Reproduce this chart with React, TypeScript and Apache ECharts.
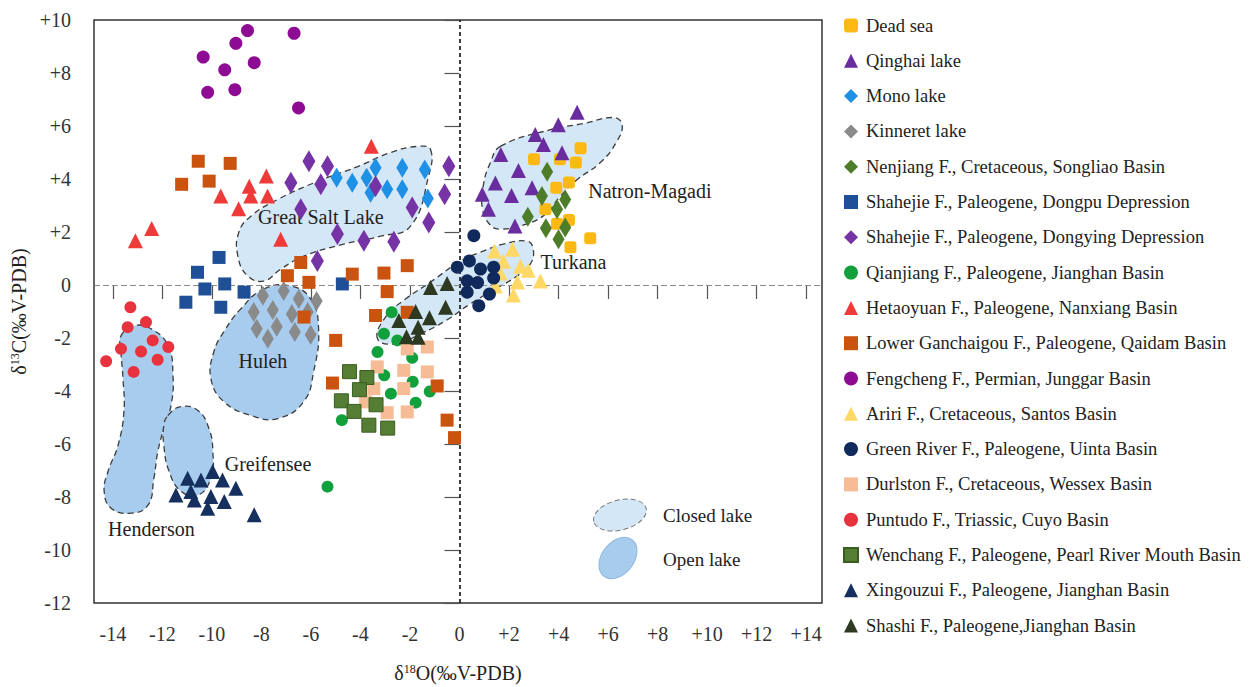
import React, { useEffect, useRef } from "react";
import * as echarts from "echarts";

const FONT = '"Liberation Serif", "Times New Roman", Times, serif';

// ---- axes ----
const xTickValues = [-14, -12, -10, -8, -6, -4, -2, 0, 2, 4, 6, 8, 10, 12, 14];
const xMin = -14.76;
const xMax = 14.64;
const yMin = -12;
const yMax = 10;
const yStep = 2;

// ---- series values [δ18O, δ13C] ----
const deadSea = [[4.89, 5.16], [3.01, 4.75], [4.06, 4.75], [4.7, 4.62], [4.42, 3.87], [3.91, 3.67], [3.47, 2.86], [4.42, 2.45], [3.94, 2.31], [5.28, 1.76], [4.48, 1.42]];
const qinghaiLake = [[4.75, 6.52], [3.99, 6.05], [3.06, 5.68], [3.39, 5.3], [4.14, 4.99], [1.67, 4.92], [2.38, 4.32], [1.45, 3.85], [2.93, 3.67], [0.92, 3.42], [2.1, 3.38], [1.17, 2.86], [2.24, 2.23]];
const monoLake = [[-4.96, 4.05], [-4.33, 3.86], [-3.75, 4.05], [-3.39, 4.42], [-3.59, 3.48], [-2.92, 3.61], [-2.31, 4.42], [-2.31, 3.61], [-1.4, 4.36], [-1.28, 3.26]];
const kinneretLake = [[-7.94, -0.41], [-7.1, -0.23], [-6.49, -0.53], [-5.77, -0.6], [-8.31, -1.02], [-7.54, -0.94], [-6.77, -1.09], [-6.13, -1.02], [-8.19, -1.65], [-7.38, -1.58], [-6.65, -1.77], [-6.01, -1.88], [-7.74, -2.03]];
const nenjiang = [[3.54, 4.27], [3.33, 3.36], [4.27, 3.23], [2.76, 2.58], [3.94, 2.86], [3.49, 2.14], [4.27, 2.17], [4.0, 1.73]];
const shahejieDongpu = [[-9.71, 1.04], [-10.58, 0.48], [-11.05, -0.65], [-10.28, -0.15], [-9.48, 0.04], [-8.7, -0.27], [-9.64, -0.84], [-4.73, 0.04]];
const shahejieDongying = [[-6.08, 4.67], [-5.33, 4.48], [-6.81, 3.86], [-5.6, 3.8], [-6.41, 2.86], [-3.39, 3.73], [-1.91, 2.92], [-1.24, 2.36], [-4.93, 1.92], [-3.86, 1.67], [-2.65, 1.63], [-5.74, 0.91], [-0.43, 4.48], [-0.6, 3.42]];
const qianjiang = [[-2.74, -1.03], [-3.05, -1.84], [-2.51, -2.09], [-3.31, -2.53], [-1.91, -2.75], [-3.04, -3.41], [-1.89, -3.65], [-2.77, -4.1], [-1.77, -4.44], [-1.2, -4.02], [-4.75, -5.1], [-5.33, -7.61]];
const hetaoyuan = [[-3.56, 5.24], [-7.8, 4.11], [-8.49, 3.73], [-9.64, 3.36], [-8.43, 3.36], [-7.75, 3.36], [-8.92, 2.88], [-12.43, 2.13], [-13.09, 1.67], [-7.22, 1.73]];
const lowerGanchaigou = [[-10.55, 4.67], [-9.26, 4.59], [-11.22, 3.8], [-10.11, 3.92], [-6.41, 0.85], [-6.95, 0.35], [-6.08, 0.1], [-4.33, 0.41], [-3.05, 0.45], [-2.11, 0.73], [-2.92, -0.25], [-6.28, -1.21], [-3.39, -1.15], [-2.11, -1.03], [-5.0, -2.09], [-5.13, -3.7], [-0.9, -3.81], [-0.5, -5.1], [-0.2, -5.76]];
const fengcheng = [[-8.56, 9.6], [-6.68, 9.5], [-9.03, 9.12], [-10.35, 8.6], [-8.29, 8.39], [-9.48, 8.12], [-10.17, 7.27], [-9.07, 7.37], [-6.5, 6.68]];
const ariri = [[1.41, 1.28], [2.14, 1.35], [1.77, 0.9], [2.46, 0.71], [1.65, 0.45], [2.78, 0.56], [2.34, 0.11], [3.27, 0.15], [2.18, -0.38], [1.45, -0.04]];
const greenRiver = [[0.58, 1.86], [-0.09, 0.67], [0.4, 0.91], [0.85, 0.6], [1.38, 0.67], [0.31, 0.16], [0.73, 0.09], [1.38, 0.26], [0.31, -0.27], [1.21, -0.34], [0.78, -0.78]];
const durlston = [[-2.11, -2.41], [-1.3, -2.34], [-3.32, -3.09], [-2.25, -3.22], [-1.3, -3.28], [-3.46, -3.91], [-2.25, -3.91], [-3.79, -4.41], [-2.92, -4.82], [-2.11, -4.79]];
const puntudo = [[-13.29, -0.84], [-13.4, -1.59], [-12.66, -1.4], [-13.67, -2.41], [-12.86, -2.51], [-12.39, -2.09], [-11.76, -2.34], [-12.19, -2.82], [-13.16, -3.28], [-14.27, -2.88]];
const wenchang = [[-4.44, -3.27], [-3.74, -3.49], [-4.04, -3.95], [-4.77, -4.37], [-3.37, -4.52], [-4.26, -4.77], [-3.66, -5.29], [-2.9, -5.4]];
const xingouzui = [[-10.98, -7.29], [-10.44, -7.36], [-9.97, -7.04], [-9.57, -7.36], [-9.03, -7.67], [-11.45, -7.92], [-10.85, -7.79], [-10.71, -8.11], [-10.04, -7.98], [-9.5, -8.17], [-10.17, -8.42], [-8.29, -8.67]];
const shashi = [[-1.17, -0.09], [-0.5, 0.06], [-0.56, -0.84], [-1.77, -1.0], [-1.21, -1.24], [-2.45, -1.34], [-1.67, -1.59], [-2.14, -1.95], [-1.67, -1.97]];

// ---- lake fields (outlines in data coordinates) ----
const greatSaltLake = [[-1.17, 5.11], [-1.25, 4.1], [-1.98, 2.22], [-3.19, 1.84], [-4.68, 1.54], [-6.29, 1.09], [-7.22, 0.6], [-7.9, 0.15], [-8.55, 0.34], [-8.95, 1.09], [-8.91, 1.99], [-8.43, 2.59], [-7.34, 3.23], [-5.73, 3.91], [-4.11, 4.47], [-2.78, 5.0], [-1.69, 5.23]];
const natronMagadi = [[1.65, 5.23], [3.67, 5.86], [5.0, 6.09], [6.21, 6.32], [6.57, 6.05], [6.33, 5.38], [5.69, 4.62], [4.76, 3.98], [4.07, 3.35], [3.47, 2.67], [2.66, 2.29], [1.65, 2.11], [1.25, 2.26], [0.93, 2.86], [0.97, 3.8], [1.25, 4.62]];
const turkana = [[-3.31, -2.03], [-2.98, -1.2], [-2.18, -0.53], [-1.17, 0.11], [0.04, 0.9], [0.85, 1.24], [1.77, 1.54], [2.74, 1.65], [2.98, 1.35], [2.86, 0.79], [2.26, 0.3], [1.45, -0.15], [0.44, -0.71], [-0.56, -1.35], [-1.57, -1.84], [-2.58, -2.22]];
const huleh = [[-7.9, -0.15], [-6.81, -0.04], [-6.01, -0.53], [-5.69, -1.65], [-5.89, -3.27], [-6.29, -4.4], [-7.34, -5.04], [-8.43, -4.92], [-9.52, -4.4], [-10.04, -3.53], [-9.92, -2.52], [-9.52, -1.77], [-8.83, -0.9]];
const henderson = [[-13.67, -1.92], [-13.15, -1.54], [-12.46, -1.65], [-11.77, -2.29], [-11.57, -3.42], [-11.65, -4.55], [-11.94, -5.41], [-12.18, -6.28], [-12.34, -7.29], [-12.58, -8.31], [-13.27, -8.61], [-14.07, -8.42], [-14.35, -7.78], [-14.19, -7.03], [-13.79, -6.05], [-13.55, -4.77], [-13.59, -3.53], [-13.67, -2.52]];
const greifensee = [[-11.77, -4.92], [-11.25, -4.59], [-10.56, -4.74], [-10.12, -5.41], [-9.96, -6.28], [-10.04, -7.29], [-10.56, -7.93], [-11.25, -7.78], [-11.73, -7.03], [-11.94, -6.05], [-11.94, -5.3]];

const regions = [
  { name: "Great Salt Lake", kind: "closed", outline: greatSaltLake, label: [-5.6, 2.56], align: "center" },
  { name: "Natron-Magadi", kind: "closed", outline: natronMagadi, label: [5.2, 3.53], align: "left" },
  { name: "Turkana", kind: "closed", outline: turkana, label: [3.27, 0.86], align: "left" },
  { name: "Huleh", kind: "open", outline: huleh, label: [-7.94, -2.86], align: "center" },
  { name: "Henderson", kind: "open", outline: henderson, label: [-14.19, -9.21], align: "left" },
  { name: "Greifensee", kind: "open", outline: greifensee, label: [-9.48, -6.77], align: "left" },
];

const seriesDefs = [
  { name: "Dead sea", data: deadSea, symbol: "roundRect", size: 12, color: "#FDB913" },
  { name: "Qinghai lake", data: qinghaiLake, symbol: "triangle", size: 15, color: "#6A2D9F" },
  { name: "Mono lake", data: monoLake, symbol: "diamond", size: [12, 20], color: "#1E90E6" },
  { name: "Kinneret lake", data: kinneretLake, symbol: "diamond", size: [12, 20], color: "#8A8A8A" },
  { name: "Nenjiang F., Cretaceous, Songliao Basin", data: nenjiang, symbol: "diamond", size: [12, 20], color: "#4E7D2A" },
  { name: "Shahejie F., Paleogene, Dongpu Depression", data: shahejieDongpu, symbol: "rect", size: 13, color: "#1F4F96" },
  { name: "Shahejie F., Paleogene, Dongying Depression", data: shahejieDongying, symbol: "diamond", size: [13, 22], color: "#7533A6" },
  { name: "Qianjiang F., Paleogene, Jianghan Basin", data: qianjiang, symbol: "circle", size: 12, color: "#12A03C" },
  { name: "Hetaoyuan F., Paleogene, Nanxiang Basin", data: hetaoyuan, symbol: "triangle", size: 15, color: "#EF3A3A" },
  { name: "Lower Ganchaigou F., Paleogene, Qaidam Basin", data: lowerGanchaigou, symbol: "rect", size: 13, color: "#C9530F" },
  { name: "Fengcheng F., Permian, Junggar Basin", data: fengcheng, symbol: "circle", size: 13, color: "#8E0C94" },
  { name: "Ariri F., Cretaceous, Santos Basin", data: ariri, symbol: "triangle", size: 15, color: "#FFD866" },
  { name: "Green River F., Paleogene, Uinta Basin", data: greenRiver, symbol: "circle", size: 13, color: "#0F2A5B" },
  { name: "Durlston F., Cretaceous, Wessex Basin", data: durlston, symbol: "rect", size: 13, color: "#F5BC96" },
  { name: "Puntudo F., Triassic, Cuyo Basin", data: puntudo, symbol: "circle", size: 12, color: "#E8323D" },
  { name: "Wenchang F., Paleogene, Pearl River Mouth Basin", data: wenchang, symbol: "rect", size: 14, color: "#557D33" },
  { name: "Xingouzui F., Paleogene, Jianghan Basin", data: xingouzui, symbol: "triangle", size: 15, color: "#15305E" },
  { name: "Shashi F., Paleogene,Jianghan Basin", data: shashi, symbol: "triangle", size: 15, color: "#2D3A21" },
];

const fmtSigned = (v: number) => (v > 0 ? "+" + v : String(v));

export default function App() {
  const ref = useRef<HTMLDivElement>(null);

  useEffect(() => {
    if (!ref.current) return;
    const chart = echarts.init(ref.current, null, { renderer: "svg" });

    const regionSeries: any = {
      type: "custom",
      name: "lake fields",
      coordinateSystem: "cartesian2d",
      silent: true,
      z: 1,
      clip: false,
      data: regions.map((r) => r.label),
      renderItem: (params: any, api: any) => {
        const r = regions[params.dataIndex];
        const pts = r.outline.map((p) => api.coord(p));
        const lp = api.coord(r.label);
        return {
          type: "group",
          children: [
            {
              type: "polygon",
              shape: { points: pts, smooth: 0.45 },
              style: {
                fill: r.kind === "closed" ? "#D4E7F7" : "#A8CCEE",
                stroke: "#3c3c3c",
                lineWidth: 1.3,
                lineDash: [6, 4],
              },
            },
            {
              type: "text",
              x: lp[0],
              y: lp[1],
              style: {
                text: r.name,
                fill: "#222",
                fontSize: 20,
                fontFamily: FONT,
                align: r.align,
                verticalAlign: "middle",
              },
            },
          ],
        };
      },
    };

    const scatterSeries = seriesDefs.map((s, i) => ({
      type: "scatter",
      name: s.name,
      data: s.data,
      symbol: s.symbol,
      symbolSize: s.size,
      z: 3,
      itemStyle: {
        color: s.color,
        opacity: 1,
        borderColor: s.name.startsWith("Wenchang") ? "#3A5C20" : undefined,
        borderWidth: s.name.startsWith("Wenchang") ? 1 : 0,
      },
      markLine:
        i === 0
          ? {
              silent: true,
              symbol: ["none", "none"],
              label: { show: false },
              z: 2,
              data: [
                { xAxis: 0, lineStyle: { type: [4, 3], color: "#111", width: 1.6 } },
                { yAxis: 0, lineStyle: { type: [6, 3], color: "#8a8a8a", width: 1.2 } },
              ],
            }
          : undefined,
    }));

    const option: any = {
      animation: false,
      backgroundColor: "#fff",
      textStyle: { fontFamily: FONT },
      grid: {
        left: 94,
        top: 20,
        width: 728,
        height: 583,
        show: true,
        borderColor: "#333",
        borderWidth: 1.5,
        containLabel: false,
        outerBoundsMode: "none",
      },
      xAxis: {
        type: "value",
        min: xMin,
        max: xMax,
        offset: 2,
        name: "δ{s|18}O(‰V-PDB)",
        nameLocation: "middle",
        nameGap: 58,
        nameTextStyle: {
          fontSize: 20,
          color: "#222",
          fontFamily: FONT,
          rich: { s: { fontSize: 12, verticalAlign: "top", fontFamily: FONT, color: "#222", padding: [0, 0, 8, 0] } },
        },
        axisLine: { show: false },
        axisTick: { show: true, length: 14, customValues: xTickValues, lineStyle: { color: "#555", width: 1.2 } },
        axisLabel: {
          customValues: xTickValues,
          margin: 19,
          fontSize: 20,
          color: "#333",
          fontFamily: FONT,
          formatter: fmtSigned,
        },
        splitLine: { show: false },
      },
      yAxis: {
        type: "value",
        min: yMin,
        max: yMax,
        interval: yStep,
        name: "δ{s|13}C(‰V-PDB)",
        nameLocation: "middle",
        nameGap: 56,
        nameRotate: 90,
        nameTextStyle: {
          fontSize: 20,
          color: "#222",
          fontFamily: FONT,
          rich: { s: { fontSize: 12, verticalAlign: "top", fontFamily: FONT, color: "#222", padding: [0, 0, 8, 0] } },
        },
        axisLine: { show: false },
        axisTick: { show: true, length: 15, lineStyle: { color: "#555", width: 1.2 } },
        axisLabel: { margin: 23, fontSize: 20, color: "#333", fontFamily: FONT, formatter: fmtSigned },
        splitLine: { show: false },
      },
      legend: {
        orient: "vertical",
        left: 838,
        top: 11,
        itemWidth: 14,
        itemHeight: 14,
        itemGap: 16.3,
        data: seriesDefs.map((s) => s.name),
        textStyle: { fontSize: 18.5, color: "#222", fontFamily: FONT, padding: [0, 0, 0, 3] },
        selectedMode: false,
      },
      graphic: [
        {
          type: "ellipse",
          x: 620,
          y: 515,
          rotation: 0.25,
          shape: { cx: 0, cy: 0, rx: 27, ry: 15 },
          style: { fill: "#D4E7F7", stroke: "#777", lineWidth: 1, lineDash: [5, 3] },
        },
        {
          type: "ellipse",
          x: 618,
          y: 558,
          rotation: 0.9,
          shape: { cx: 0, cy: 0, rx: 23, ry: 16 },
          style: { fill: "#A8CCEE", stroke: "#8fb6de", lineWidth: 1 },
        },
        {
          type: "text",
          x: 663,
          y: 515,
          style: { text: "Closed lake", fontSize: 19, fontFamily: FONT, fill: "#222", verticalAlign: "middle" },
        },
        {
          type: "text",
          x: 663,
          y: 559,
          style: { text: "Open lake", fontSize: 19, fontFamily: FONT, fill: "#222", verticalAlign: "middle" },
        },
      ],
      series: [regionSeries, ...scatterSeries],
    };

    chart.setOption(option);
    return () => chart.dispose();
  }, []);

  return (
    <div
      ref={ref}
      style={{ position: "fixed", left: 0, top: 0, width: 1253, height: 687, background: "#fff" }}
    />
  );
}
